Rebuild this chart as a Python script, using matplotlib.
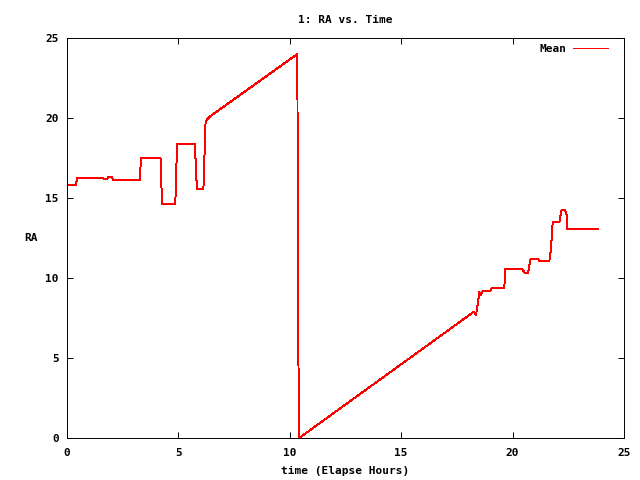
import matplotlib
matplotlib.use('Agg')
import matplotlib.pyplot as plt

# elapsed hours vs mean RA
hours = [0.0, 0.39, 0.45, 1.63, 1.68, 1.80, 1.85, 2.00, 2.07, 3.29, 3.29, 3.33,
         4.20, 4.22, 4.26, 4.86, 4.88, 4.94, 5.74, 5.76, 5.83, 6.12, 6.15, 6.19,
         6.22, 6.42, 10.34, 10.35, 10.38, 10.42, 18.27, 18.36, 18.46, 18.50,
         18.57, 18.65, 19.00, 19.05, 19.63, 19.66, 20.45, 20.53, 20.70, 20.80,
         21.15, 21.20, 21.65, 21.72, 21.80, 22.10, 22.17, 22.20, 22.35, 22.42,
         22.45, 23.85]
ra_mean = [15.8, 15.8, 16.23, 16.23, 16.17, 16.17, 16.3, 16.3, 16.15, 16.15, 16.8, 17.48,
           17.48, 16.75, 14.6, 14.6, 15.5, 18.4, 18.4, 17.7, 15.54, 15.54, 16.6, 18.6,
           19.8, 20.1, 24.0, 18.0, 6.0, 0.0, 7.9, 7.7, 8.6, 9.15,
           8.94, 9.17, 9.17, 9.35, 9.35, 10.54, 10.54, 10.33, 10.33, 11.17,
           11.17, 11.06, 11.06, 11.8, 13.52, 13.52, 14.04, 14.23, 14.23, 13.94,
           13.04, 13.04]

plt.rcParams['font.family'] = ['DejaVu Sans Mono']
plt.rcParams['font.weight'] = 'bold'
plt.rcParams['font.size'] = 8

fig = plt.figure(figsize=(6.4, 4.8), dpi=100)
ax = fig.add_axes([0.1047, 0.0875, 0.8703, 0.8333])

ax.plot(hours, ra_mean, color='#ff0000', lw=0.7, antialiased=False, label='Mean')

ax.set_xlim(0, 25)
ax.set_ylim(0, 25)
ax.set_xticks(range(0, 26, 5))
ax.set_yticks(range(0, 26, 5))
ax.tick_params(direction='in', length=4.5, width=0.7, top=True, right=True)
ax.tick_params(axis='x', pad=7)
ax.tick_params(axis='y', pad=6)
for s in ax.spines.values():
    s.set_linewidth(0.7)

ax.set_title('1: RA vs. Time', fontsize=8, fontweight='bold', pad=11)
ax.set_xlabel('time (Elapse Hours)', fontweight='bold', labelpad=6)
ax.set_ylabel('RA', fontweight='bold', rotation=0, labelpad=10, va='center')

leg = ax.legend(loc='upper right', frameon=False, handlelength=3.2,
                markerfirst=False, bbox_to_anchor=(0.99, 1.01),
                handletextpad=0.6)

fig.savefig('out.png', dpi=100)
